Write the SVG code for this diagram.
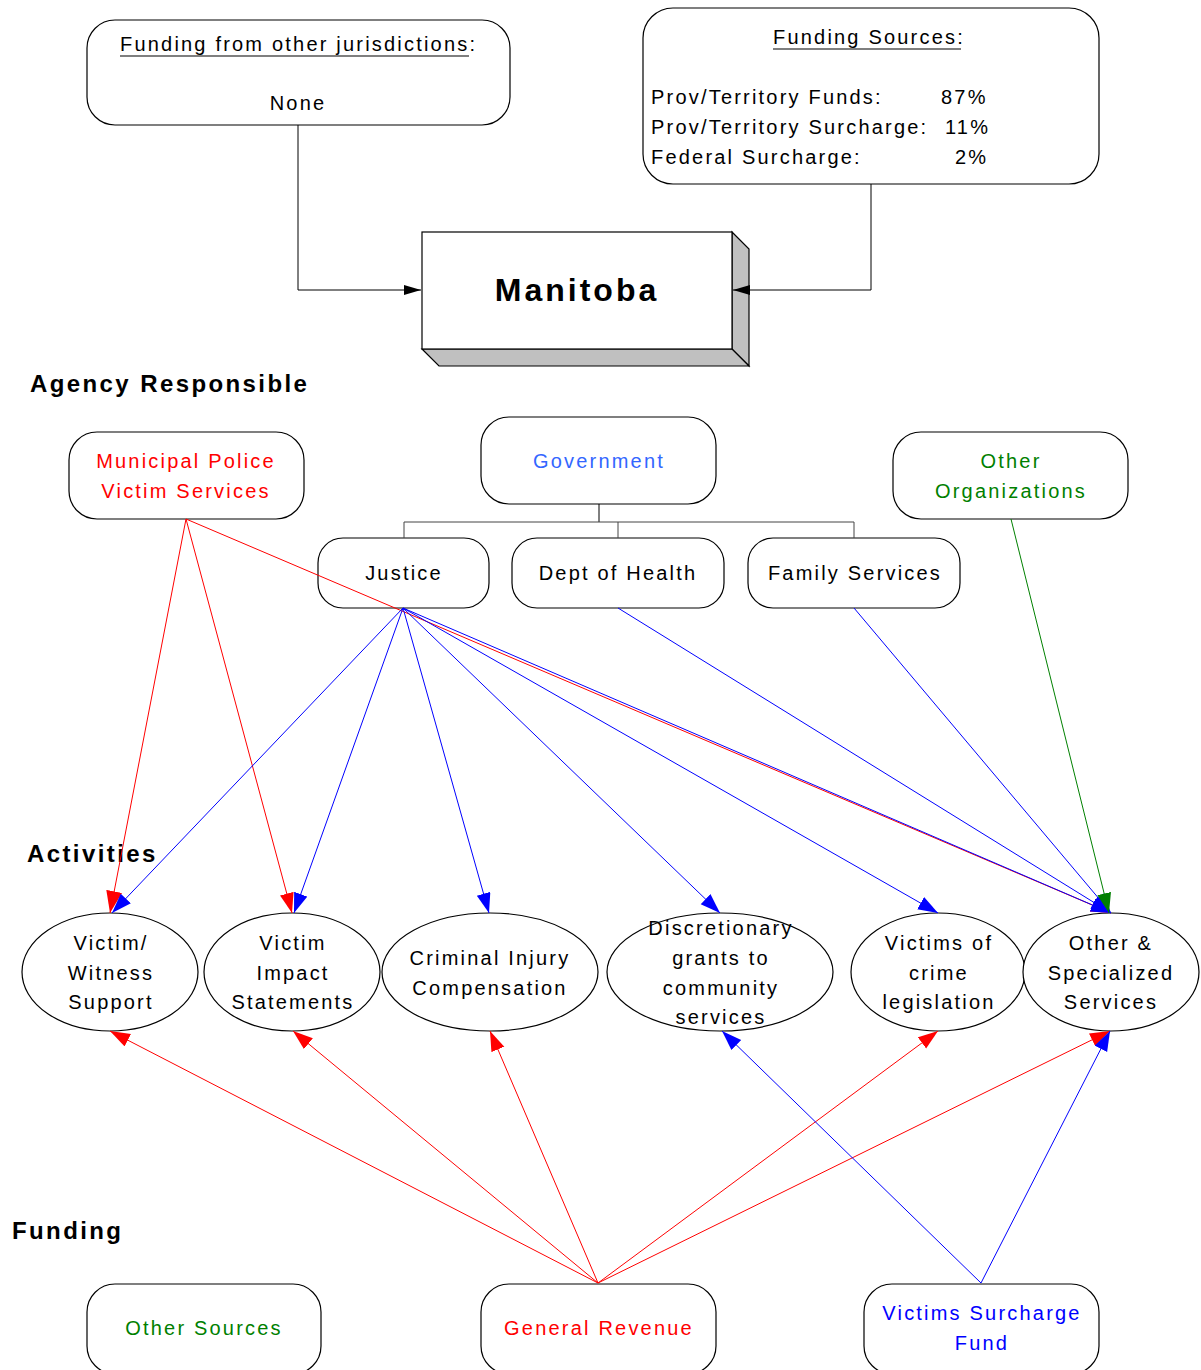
<svg xmlns="http://www.w3.org/2000/svg" width="1201" height="1370" viewBox="0 0 1201 1370">
  <style>
    text { font-family: "Liberation Sans", Arial, sans-serif; font-size: 20px; letter-spacing: 2.2px; fill: #000; }
    .c { text-anchor: middle; }
    .head { font-weight: bold; font-size: 24px; letter-spacing: 2.4px; }
    .title { font-weight: bold; font-size: 32px; letter-spacing: 3px; }
    .box { fill: #fff; stroke: #000; stroke-width: 1.2; }
    .oval { fill: #fff; stroke: #000; stroke-width: 1.2; }
    .red { fill: #ff0000; }
    .blue { fill: #0000ff; }
    .gov { fill: #3366ff; }
    .green { fill: #008000; }
    .ln { fill: none; stroke-width: 1; }
    .lr { stroke: #ff0000; }
    .lb { stroke: #0000ff; }
    .lg { stroke: #008000; }
    .lk { stroke: #000; }
  </style>
  <defs>
    <marker id="arR" markerUnits="userSpaceOnUse" markerWidth="22" markerHeight="16" refX="20" refY="7" orient="auto"><path d="M0,0 L20,7 L0,14 z" fill="#ff0000"/></marker>
    <marker id="arRL" markerUnits="userSpaceOnUse" markerWidth="24" markerHeight="18" refX="22" refY="8" orient="auto"><path d="M0,0 L22,8 L0,16 z" fill="#ff0000"/></marker>
    <marker id="arB" markerUnits="userSpaceOnUse" markerWidth="22" markerHeight="16" refX="20" refY="7" orient="auto"><path d="M0,0 L20,7 L0,14 z" fill="#0000ff"/></marker>
    <marker id="arG" markerUnits="userSpaceOnUse" markerWidth="22" markerHeight="16" refX="20" refY="7" orient="auto"><path d="M0,0 L20,7 L0,14 z" fill="#008000"/></marker>
    <marker id="arK" markerUnits="userSpaceOnUse" markerWidth="18" markerHeight="12" refX="17" refY="5" orient="auto"><path d="M0,0 L17,5 L0,10 z" fill="#000"/></marker>
  </defs>

  <rect width="1201" height="1370" fill="#fff"/>

  <!-- section headings -->
  <text class="head" x="30" y="392">Agency Responsible</text>
  <text class="head" x="27" y="862">Activities</text>
  <text class="head" x="12" y="1239">Funding</text>

  <!-- top information boxes -->
  <g id="other-jurisdictions">
    <rect class="box" x="87" y="20" width="423" height="105" rx="28"/>
    <text x="120" y="51">Funding from other jurisdictions:</text>
    <line x1="120" y1="56" x2="469" y2="56" stroke="#000" stroke-width="1.2"/>
    <text class="c" x="298" y="110">None</text>
  </g>
  <g id="funding-sources">
    <rect class="box" x="643" y="8" width="456" height="176" rx="30"/>
    <text x="773" y="44">Funding Sources:</text>
    <line x1="773" y1="49" x2="961" y2="49" stroke="#000" stroke-width="1.2"/>
    <text x="651" y="104">Prov/Territory Funds:</text>
    <text x="941" y="104">87%</text>
    <text x="651" y="134">Prov/Territory Surcharge:</text>
    <text x="945" y="134">11%</text>
    <text x="651" y="164">Federal Surcharge:</text>
    <text x="955" y="164">2%</text>
  </g>

  <!-- province block -->
  <g id="manitoba">
    <polygon points="732,232 749,249 749,366 732,349" fill="#c0c0c0" stroke="#000" stroke-width="1.2"/>
    <polygon points="422,349 732,349 749,366 439,366" fill="#c0c0c0" stroke="#000" stroke-width="1.2"/>
    <rect x="422" y="232" width="310" height="117" fill="#fff" stroke="#000" stroke-width="1.2"/>
    <text class="title c" x="577" y="301">Manitoba</text>
  </g>

  <!-- agencies -->
  <g id="municipal-police">
    <rect class="box" x="69" y="432" width="235" height="87" rx="28"/>
    <text class="c red" x="186" y="468">Municipal Police</text>
    <text class="c red" x="186" y="498">Victim Services</text>
  </g>
  <g id="government">
    <rect class="box" x="481" y="417" width="235" height="87" rx="28"/>
    <text class="c gov" x="599" y="468">Government</text>
  </g>
  <g id="other-organizations">
    <rect class="box" x="893" y="432" width="235" height="87" rx="28"/>
    <text class="c green" x="1011" y="468">Other</text>
    <text class="c green" x="1011" y="498">Organizations</text>
  </g>
  <g id="justice">
    <rect class="box" x="318" y="538" width="171" height="70" rx="25"/>
    <text class="c" x="404" y="580">Justice</text>
  </g>
  <g id="dept-health">
    <rect class="box" x="512" y="538" width="212" height="70" rx="25"/>
    <text class="c" x="618" y="580">Dept of Health</text>
  </g>
  <g id="family-services">
    <rect class="box" x="748" y="538" width="212" height="70" rx="25"/>
    <text class="c" x="855" y="580">Family Services</text>
  </g>

  <!-- activities -->
  <g id="victim-witness">
    <ellipse class="oval" cx="110" cy="972" rx="88" ry="59"/>
    <text class="c" x="111" y="950">Victim/</text>
    <text class="c" x="111" y="980">Witness</text>
    <text class="c" x="111" y="1009">Support</text>
  </g>
  <g id="victim-impact">
    <ellipse class="oval" cx="292" cy="972" rx="88" ry="59"/>
    <text class="c" x="293" y="950">Victim</text>
    <text class="c" x="293" y="980">Impact</text>
    <text class="c" x="293" y="1009">Statements</text>
  </g>
  <g id="criminal-injury">
    <ellipse class="oval" cx="490" cy="972" rx="108" ry="59"/>
    <text class="c" x="490" y="965">Criminal Injury</text>
    <text class="c" x="490" y="995">Compensation</text>
  </g>
  <g id="discretionary-grants">
    <ellipse class="oval" cx="720" cy="972" rx="113" ry="59"/>
    <text class="c" x="721" y="935">Discretionary</text>
    <text class="c" x="721" y="965">grants to</text>
    <text class="c" x="721" y="995">community</text>
    <text class="c" x="721" y="1024">services</text>
  </g>
  <g id="crime-legislation">
    <ellipse class="oval" cx="938" cy="972" rx="87" ry="59"/>
    <text class="c" x="939" y="950">Victims of</text>
    <text class="c" x="939" y="980">crime</text>
    <text class="c" x="939" y="1009">legislation</text>
  </g>
  <g id="specialized-services">
    <ellipse class="oval" cx="1111" cy="972" rx="88" ry="59"/>
    <text class="c" x="1111" y="950">Other &amp;</text>
    <text class="c" x="1111" y="980">Specialized</text>
    <text class="c" x="1111" y="1009">Services</text>
  </g>

  <!-- funding sources -->
  <g id="other-sources">
    <rect class="box" x="87" y="1284" width="234" height="90" rx="28"/>
    <text class="c green" x="204" y="1335">Other Sources</text>
  </g>
  <g id="general-revenue">
    <rect class="box" x="481" y="1284" width="235" height="90" rx="28"/>
    <text class="c red" x="599" y="1335">General Revenue</text>
  </g>
  <g id="surcharge-fund">
    <rect class="box" x="864" y="1284" width="235" height="90" rx="28"/>
    <text class="c blue" x="982" y="1320">Victims Surcharge</text>
    <text class="c blue" x="982" y="1350">Fund</text>
  </g>

  <!-- connectors -->
  <g id="connectors">
    <!-- into the province block -->
    <polyline class="ln lk" points="298,125 298,290 421,290" marker-end="url(#arK)"/>
    <polyline class="ln lk" points="871,184 871,290 733,290" marker-end="url(#arK)"/>

    <!-- government org chart -->
    <polyline class="ln lk" points="599,504 599,522"/>
    <polyline class="ln" stroke="#444" points="404,538 404,522 854,522 854,538"/>
    <line class="ln" stroke="#444" x1="618" y1="522" x2="618" y2="538"/>

    <!-- municipal police -->
    <line class="ln lr" stroke-width="2" x1="186" y1="519" x2="110" y2="913" marker-end="url(#arRL)"/>
    <line class="ln lr" x1="186" y1="519" x2="292" y2="913" marker-end="url(#arR)"/>
    <line class="ln lr" x1="186" y1="519" x2="1111" y2="913" marker-end="url(#arR)"/>

    <!-- justice -->
    <line class="ln lb" x1="403" y1="608" x2="112" y2="913" marker-end="url(#arB)"/>
    <line class="ln lb" x1="403" y1="608" x2="294" y2="913" marker-end="url(#arB)"/>
    <line class="ln lb" x1="403" y1="608" x2="489" y2="913" marker-end="url(#arB)"/>
    <line class="ln lb" x1="403" y1="608" x2="720" y2="913" marker-end="url(#arB)"/>
    <line class="ln lb" x1="403" y1="608" x2="938" y2="913" marker-end="url(#arB)"/>
    <line class="ln lb" x1="403" y1="608" x2="1111" y2="913" marker-end="url(#arB)"/>

    <!-- health, family services, other organizations -->
    <line class="ln lb" x1="618" y1="608" x2="1111" y2="913" marker-end="url(#arB)"/>
    <line class="ln lb" stroke-width="2" x1="854" y1="608" x2="1111" y2="913" marker-end="url(#arB)"/>
    <line class="ln lg" x1="1011" y1="519" x2="1109" y2="913" marker-end="url(#arG)"/>

    <!-- general revenue -->
    <line class="ln lr" x1="598" y1="1283" x2="110" y2="1031" marker-end="url(#arR)"/>
    <line class="ln lr" x1="598" y1="1283" x2="293" y2="1031" marker-end="url(#arR)"/>
    <line class="ln lr" x1="598" y1="1283" x2="490" y2="1031" marker-end="url(#arR)"/>
    <line class="ln lr" x1="598" y1="1283" x2="938" y2="1031" marker-end="url(#arR)"/>
    <line class="ln lr" x1="598" y1="1283" x2="1110" y2="1031" marker-end="url(#arR)"/>

    <!-- victims surcharge fund -->
    <line class="ln lb" x1="981" y1="1283" x2="722" y2="1031" marker-end="url(#arB)"/>
    <line class="ln lb" x1="981" y1="1283" x2="1110" y2="1031" marker-end="url(#arB)"/>
  </g>
</svg>
